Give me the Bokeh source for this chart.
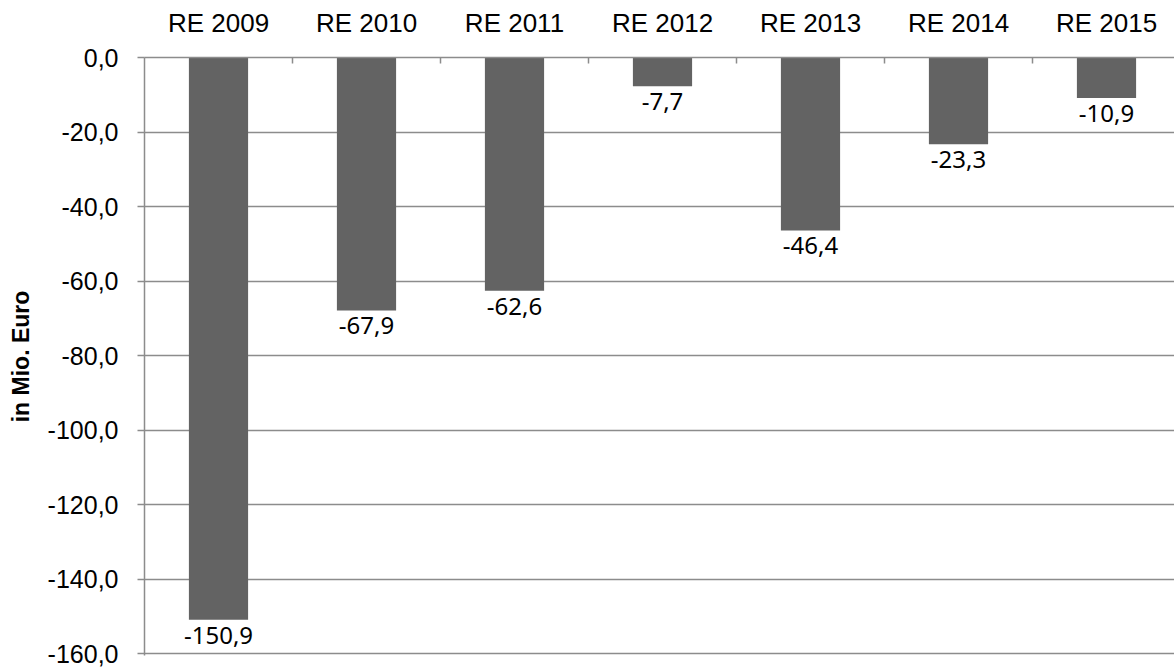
from bokeh.plotting import figure
from bokeh.models import Range1d, LinearAxis, FixedTicker, ColumnDataSource
from bokeh.core.properties import value
from bokeh.embed import file_html
from bokeh.resources import INLINE

# Annual results (Rechnungsergebnis), in million euro
categories = ["RE 2009", "RE 2010", "RE 2011", "RE 2012", "RE 2013", "RE 2014", "RE 2015"]
results = [-150.9, -67.9, -62.6, -7.7, -46.4, -23.3, -10.9]
y_ticks = [0, -20, -40, -60, -80, -100, -120, -140, -160]
y_tick_labels = ["0,0", "-20,0", "-40,0", "-60,0", "-80,0", "-100,0", "-120,0", "-140,0", "-160,0"]

GRID = "#8c8c8c"
BAR = "#636363"

n = len(categories)
centers = [i + 0.5 for i in range(n)]
bounds = [float(i) for i in range(1, n)]
labels = [f"{v:.1f}".replace(".", ",") for v in results]

src = ColumnDataSource(dict(x=centers, top=[0] * n, bottom=results, label=labels))

W, H = 1174, 668
left, top, bottom = 144, 57, 13
cat_px = 148
x_end = (W - left) / cat_px

p = figure(width=W, height=H, output_backend="svg", toolbar_location=None,
           x_range=Range1d(0, x_end), y_range=Range1d(-160.5, 0),
           x_axis_location=None, y_axis_location=None,
           min_border_left=left, min_border_top=top, min_border_bottom=bottom,
           min_border_right=0)
p.outline_line_color = None
p.background_fill_color = "white"
p.border_fill_color = "white"

p.vbar(x="x", top="top", bottom="bottom", width=0.4, source=src,
       fill_color=BAR, line_color=None)

p.text(x="x", y="bottom", text="label", source=src,
       text_align="center", text_baseline="top", y_offset=7,
       text_font=value("Noto Sans"), text_font_size="24px", text_color="black")

# value axis on the left
yax = LinearAxis(ticker=FixedTicker(ticks=y_ticks))
yax.major_label_overrides = {t: s for t, s in zip(y_ticks, y_tick_labels)}
yax.axis_line_color = GRID
yax.axis_line_width = 1.5
yax.major_tick_line_color = GRID
yax.major_tick_line_width = 1.5
yax.major_tick_in = 0
yax.major_tick_out = 7
yax.minor_tick_line_color = None
yax.major_label_standoff = 19
yax.major_label_text_font = "Liberation Sans"
yax.major_label_text_font_size = "25px"
yax.major_label_text_color = "black"
yax.axis_label = "in Mio. Euro"
yax.axis_label_text_font = "Liberation Sans"
yax.axis_label_text_font_style = "bold"
yax.axis_label_text_font_size = "23px"
yax.axis_label_text_color = "black"
yax.axis_label_standoff = 11
p.add_layout(yax, "left")

# category axis along the top, ticks between categories
xax = LinearAxis(ticker=FixedTicker(ticks=centers, minor_ticks=bounds))
xax.major_label_overrides = {c: s for c, s in zip(centers, categories)}
xax.axis_line_color = GRID
xax.axis_line_width = 1.5
xax.major_tick_line_color = None
xax.minor_tick_line_color = GRID
xax.minor_tick_line_width = 1.5
xax.minor_tick_in = 6
xax.minor_tick_out = 0
xax.major_tick_in = 0
xax.major_tick_out = 0
xax.major_label_standoff = 20
xax.major_label_text_font = "Liberation Sans"
xax.major_label_text_font_size = "26px"
xax.major_label_text_color = "black"
p.add_layout(xax, "above")

p.xgrid.visible = False
p.ygrid.ticker = FixedTicker(ticks=y_ticks)
p.ygrid.grid_line_color = GRID
p.ygrid.grid_line_width = 1.5

open("out.html", "w").write(file_html(p, INLINE))
